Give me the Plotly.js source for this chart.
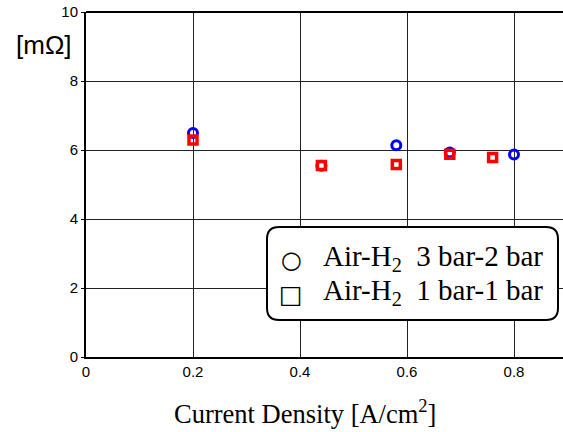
<!DOCTYPE html>
<html>
<head>
<meta charset="utf-8">
<script src="https://cdn.plot.ly/plotly-3.0.1.min.js"></script>
<style>html,body{margin:0;padding:0;background:#fff;}#chart{width:563px;height:432px;}</style>
</head>
<body>
<div id="chart"></div>
<script>
// Data
const xHigh = [0.20, 0.44, 0.58, 0.68, 0.80];
const yHigh = [6.49, 5.54, 6.14, 5.93, 5.87];
const xLow = [0.20, 0.44, 0.58, 0.68, 0.76];
const yLow = [6.29, 5.55, 5.58, 5.88, 5.78];
const xTicks = [0, 0.2, 0.4, 0.6, 0.8];
const xTickLabels = ['0', '0.2', '0.4', '0.6', '0.8'];
const yTicks = [0, 2, 4, 6, 8, 10];
const yTickLabels = ['0', '2', '4', '6', '8', '10'];
const legendLabels = ['Air-H<sub>2</sub>\u00a0\u00a03 bar-2 bar', 'Air-H<sub>2</sub>\u00a0\u00a01 bar-1 bar'];

const traces = [
  {x: xHigh, y: yHigh, type: 'scatter', mode: 'markers', showlegend: false,
   marker: {symbol: 'circle-open', size: 9, color: '#0000ff', line: {width: 3, color: '#0000ff'}}},
  {x: xLow, y: yLow, type: 'scatter', mode: 'markers', showlegend: false,
   marker: {symbol: 'square-open', size: 8, color: '#ff0000', line: {width: 3.5, color: '#ff0000'}}}
];

// helper: pixel -> paper (plot area: x 86..563, y 12..357)
const L = 86, R = 563, T = 12, B = 357;
const px = v => (v - L) / (R - L);
const py = v => (B - v) / (B - T);

function roundRect(x0, y0, x1, y1, r) {
  const rx = r / (R - L), ry = r / (B - T);
  const a = px(x0), b = px(x1), top = py(y0), bot = py(y1);
  return `M ${a + rx} ${top} L ${b - rx} ${top} Q ${b} ${top} ${b} ${top - ry} L ${b} ${bot + ry} Q ${b} ${bot} ${b - rx} ${bot} L ${a + rx} ${bot} Q ${a} ${bot} ${a} ${bot + ry} L ${a} ${top - ry} Q ${a} ${top} ${a + rx} ${top} Z`;
}

const layout = {
  width: 563, height: 432,
  margin: {l: 86, r: 0, t: 12, b: 75, pad: 0},
  paper_bgcolor: '#fff', plot_bgcolor: '#fff',
  showlegend: false,
  font: {family: 'Liberation Sans, Arial, sans-serif', size: 15, color: '#000'},
  xaxis: {
    range: [0, (R - L) / 535], tickvals: xTicks, ticktext: xTickLabels,
    showgrid: true, gridcolor: '#222', gridwidth: 1,
    zeroline: false, showline: true, linecolor: '#000', linewidth: 2,
    ticks: '', tickfont: {size: 15, family: 'Liberation Sans, Arial, sans-serif'}, fixedrange: true
  },
  yaxis: {
    range: [0, 10], tickvals: yTicks, ticktext: yTickLabels,
    showgrid: true, gridcolor: '#222', gridwidth: 1,
    zeroline: false, showline: true, linecolor: '#000', linewidth: 2, mirror: false,
    ticks: 'outside', ticklen: 3, tickcolor: '#000',
    tickfont: {size: 15, family: 'Liberation Sans, Arial, sans-serif'}, fixedrange: true
  },
  shapes: [
    {type: 'line', xref: 'paper', yref: 'paper', x0: 0, x1: 1, y0: 1, y1: 1, line: {color: '#000', width: 2}},
    {type: 'path', xref: 'paper', yref: 'paper', path: roundRect(267, 227, 558, 320, 12),
     fillcolor: '#fff', line: {color: '#000', width: 2}, layer: 'above'}
  ],
  annotations: [
    {text: '[mΩ]', xref: 'paper', yref: 'paper', x: px(44), y: py(45), showarrow: false,
     xanchor: 'center', yanchor: 'middle', font: {family: 'Liberation Sans, Arial, sans-serif', size: 26, color: '#000'}},
    {text: 'Current Density [A/cm<sup>2</sup>]', xref: 'paper', yref: 'paper', x: px(305), y: py(412), showarrow: false,
     xanchor: 'center', yanchor: 'middle', font: {family: 'Liberation Serif, Times New Roman, serif', size: 26.5, color: '#000'}},
    {text: '○', xref: 'paper', yref: 'paper', x: px(291), y: py(260), showarrow: false,
     xanchor: 'center', yanchor: 'middle', font: {family: 'DejaVu Sans', size: 24, color: '#000'}},
    {text: '□', xref: 'paper', yref: 'paper', x: px(291), y: py(294), showarrow: false,
     xanchor: 'center', yanchor: 'middle', font: {family: 'DejaVu Sans', size: 25, color: '#000'}},
    {text: legendLabels[0], xref: 'paper', yref: 'paper', x: px(321), y: py(258), showarrow: false,
     xanchor: 'left', yanchor: 'middle', font: {family: 'Liberation Serif, Times New Roman, serif', size: 29, color: '#000'}},
    {text: legendLabels[1], xref: 'paper', yref: 'paper', x: px(321), y: py(292), showarrow: false,
     xanchor: 'left', yanchor: 'middle', font: {family: 'Liberation Serif, Times New Roman, serif', size: 29, color: '#000'}}
  ]
};

Plotly.newPlot('chart', traces, layout, {staticPlot: true, displayModeBar: false});
</script>
</body>
</html>
